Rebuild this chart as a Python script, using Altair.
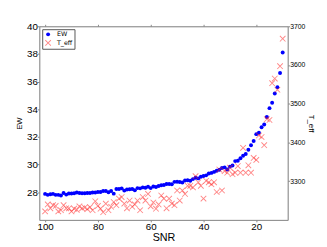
import altair as alt
import pandas as pd

snr = list(range(100, 9, -1))  # 100 .. 10

ew = [27.88, 27.81, 27.86, 27.88, 27.81, 27.81, 27.76, 27.95, 27.83, 27.91,
      27.91, 27.93, 27.98, 27.95, 27.93, 27.93, 27.95, 27.95, 27.98, 27.98,
      28.02, 28.02, 28.09, 28.09, 28.00, 28.09, 27.90, 28.24, 28.24, 28.28,
      28.12, 28.20, 28.22, 28.23, 28.15, 28.30, 28.28, 28.35, 28.32, 28.40,
      28.30, 28.42, 28.38, 28.45, 28.50, 28.52, 28.60, 28.60, 28.58, 28.75,
      28.76, 28.74, 28.70, 28.85, 28.87, 28.83, 28.95, 29.05, 29.00, 29.12,
      29.18, 29.22, 29.35, 29.40, 29.47, 29.55, 29.63, 29.75, 29.80, 29.65,
      29.85, 29.93, 30.25, 30.28, 30.46, 30.64, 30.77, 31.07, 31.40, 31.70,
      32.20, 32.30, 32.70, 32.90, 33.44, 34.08, 34.47, 35.14, 35.60, 36.62,
      38.10]

teff = [3222, 3240, 3230, 3238, 3236, 3222, 3225, 3238, 3230, 3230,
        3222, 3229, 3226, 3235, 3230, 3232, 3228, 3233, 3225, 3248,
        3236, 3229, 3220, 3242, 3225, 3234, 3246, 3238, 3255, 3259,
        3242, 3230, 3250, 3234, 3240, 3250, 3225, 3259, 3250, 3267,
        3235, 3245, 3229, 3240, 3263, 3255, 3230, 3255, 3242, 3238,
        3276, 3250, 3276, 3267, 3288, 3288, 3284, 3313, 3297, 3288,
        3255, 3301, 3297, 3292, 3297, 3272, 3330, 3276, 3326, 3322,
        3335, 3318, 3322, 3339, 3322, 3386, 3322, 3341, 3322, 3360,
        3355, 3418, 3414, 3393, 3460, 3458, 3553, 3565, 3536, 3597,
        3668]

series = ["EW", "T_eff"]

rows = []
for s, e, t in zip(snr, ew, teff):
    rows.append({"snr": s, "value": e, "series": "EW"})
    rows.append({"snr": s, "value": t, "series": "T_eff"})
df = pd.DataFrame(rows)

XPATH = ("M-1,-0.8L-0.8,-1L0,-0.2L0.8,-1L1,-0.8L0.2,0L1,0.8L0.8,1L0,0.2"
         "L-0.8,1L-1,0.8L-0.2,0Z")

font = "DejaVu Sans"

xscale = alt.Scale(domain=[8.1, 102.2], reverse=True, nice=False, zero=False)

color = alt.Color("series:N", scale=alt.Scale(domain=series, range=["#0000ff", "#ff2020"]),
                  legend=alt.Legend(title=None, orient="top-left", offset=3,
                                    strokeColor="#555555", padding=2,
                                    labelFontSize=6.5, labelFont=font, rowPadding=1,
                                    symbolSize=25, labelOffset=5,
                                    fillColor="white"))
shape = alt.Shape("series:N", scale=alt.Scale(domain=series, range=["circle", XPATH]))
size = alt.Size("series:N", scale=alt.Scale(domain=series, range=[16, 40]), legend=None)
opacity = alt.Opacity("series:N", scale=alt.Scale(domain=series, range=[1.0, 0.55]), legend=None)

ew_layer = alt.Chart(df).transform_filter(alt.datum.series == "EW").mark_point(
    filled=True, strokeWidth=0
).encode(
    x=alt.X("snr:Q", scale=xscale,
            axis=alt.Axis(values=[20, 40, 60, 80, 100], title="SNR", orient="bottom",
                          grid=False, tickSize=2, labelPadding=0, titlePadding=0,
                          titleFontWeight="normal")),
    y=alt.Y("value:Q", scale=alt.Scale(domain=[26, 40], nice=False, zero=False),
            axis=alt.Axis(values=[28, 30, 32, 34, 36, 38, 40], title="EW",
                          orient="left", grid=False, tickSize=2, labelPadding=0,
                          titlePadding=3, titleFontWeight="normal", titleFontSize=8)),
    color=color, shape=shape, size=size, opacity=opacity,
)

teff_layer = alt.Chart(df).transform_filter(alt.datum.series == "T_eff").mark_point(
    filled=True, strokeWidth=0
).encode(
    x=alt.X("snr:Q", scale=xscale,
            axis=alt.Axis(values=[20, 40, 60, 80, 100], title=None, orient="top",
                          labels=False, grid=False, tickSize=2)),
    y=alt.Y("value:Q", scale=alt.Scale(domain=[3200, 3700], nice=False, zero=False),
            axis=alt.Axis(values=[3300, 3400, 3500, 3600, 3700], title="T_eff",
                          format="d", orient="right", grid=False, tickSize=2,
                          labelPadding=0, labelFontSize=7, titlePadding=2,
                          titleFontWeight="normal", titleFontSize=8)),
    color=color, shape=shape, size=size, opacity=opacity,
)

chart = alt.layer(ew_layer, teff_layer).resolve_scale(
    y="independent"
).resolve_axis(
    x="independent", y="independent"
).properties(
    width=254, height=198,
    autosize=alt.AutoSizeParams(type="none"),
    padding={"left": 32, "top": 16, "right": 32, "bottom": 24},
).configure_axis(
    labelFont=font, titleFont=font, labelFontSize=7.5, titleFontSize=9.5,
    titleFontWeight="normal", domainColor="#666666", tickColor="#666666",
    labelColor="#222222", titleColor="#222222",
).configure_view(
    stroke="#666666"
).configure(background="white")

chart.save("out.html", embed_options={"renderer": "svg", "actions": False})
